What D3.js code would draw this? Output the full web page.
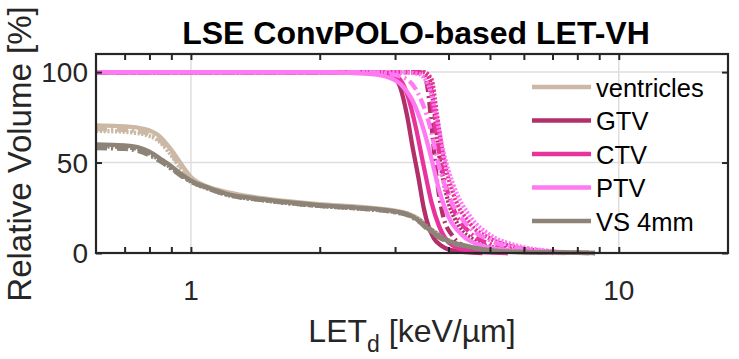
<!DOCTYPE html>
<html><head><meta charset="utf-8">
<script src="https://cdn.jsdelivr.net/npm/d3@7/dist/d3.min.js"></script>
<style>body{margin:0;background:#fff}svg{display:block}text{font-family:"Liberation Sans",Arial,Helvetica,sans-serif}</style>
</head><body>
<svg id="c" width="739" height="359"></svg>
<script>
// ---- data ----
const titleText = "LSE ConvPOLO-based LET-VH";
const yLabelText = "Relative Volume [%]";
const xTicks = [1, 10];
const xTickLabels = ["1", "10"];
const yTicks = [0, 50, 100];
const structures = ["ventricles", "GTV", "CTV", "PTV", "VS 4mm"];
const colors = ["#CBB9A6", "#B1306A", "#E8339D", "#FF7AF2", "#8D8477"];
const styles = ["solid", "dashed", "dotted"];

// [LET, volume%] per structure, per plan variant (solid, dashed, dotted)
const ventriclesSolid = [[0.6,70.5],[0.7,70],[0.78,68.5],[0.84,65],[0.9,57],[0.95,49],[1.0,42],[1.1,36.5],[1.2,34],[1.5,30],[2,27],[2.5,25.5],[3,23.5],[3.2,22],[3.4,19],[3.6,14],[3.8,10],[4.0,7],[4.4,4],[4.8,2],[5.5,0.8],[7,0.3],[8.5,0]];
const ventriclesDashed = [[0.6,68.5],[0.7,68],[0.78,66.5],[0.84,63],[0.9,55],[0.95,47],[1.0,41],[1.1,36],[1.2,33.5],[1.5,29.5],[2,26.5],[2.5,25],[3,23],[3.2,21.5],[3.4,18.5],[3.6,13.5],[3.8,9.5],[4.0,6.5],[4.4,3.8],[4.8,1.9],[5.5,0.7],[7,0.3],[8.5,0]];
const ventriclesDotted = [[0.6,67.5],[0.7,67],[0.78,65.5],[0.84,62],[0.9,54],[0.95,46],[1.0,40],[1.1,35.5],[1.2,33],[1.5,29],[2,26],[2.5,24.5],[3,22.5],[3.2,21],[3.4,18],[3.6,13],[3.8,9],[4.0,6],[4.4,3.5],[4.8,1.8],[5.5,0.7],[7,0.3],[8.5,0]];
const gtvSolid = [[0.6,100],[2.7,100],[2.9,99.5],[3.0,97],[3.08,92],[3.2,76],[3.3,58],[3.4,42],[3.5,25],[3.6,14],[3.7,8],[3.85,4],[4.0,2],[4.4,0.5],[4.8,0]];
const gtvDashed = [[0.6,100],[3.4,100],[3.5,99],[3.58,90],[3.66,68],[3.76,40],[3.88,21],[4.1,9],[4.4,3.5],[5,1],[5.5,0]];
const gtvDotted = [[0.6,100],[3.5,100],[3.6,97],[3.7,80],[3.8,55],[3.95,33],[4.2,16],[4.6,7],[5.2,2.5],[6,0.5],[7,0]];
const ctvSolid = [[0.6,100],[2.6,100],[2.9,99],[3.05,97],[3.2,88],[3.35,70],[3.5,48],[3.65,28],[3.8,15],[4.0,6],[4.3,2],[4.8,0.5],[5.5,0]];
const ctvDashed = [[0.6,100],[3.3,100],[3.5,99],[3.65,85],[3.75,65],[3.9,42],[4.1,25],[4.5,11],[5,5],[5.8,1.5],[7,0]];
const ctvDotted = [[0.6,100],[3.5,100],[3.65,96],[3.75,78],[3.9,52],[4.1,33],[4.5,16],[5,8],[5.8,3],[6.8,1],[8,0]];
const ptvSolid = [[0.6,100],[2.0,100],[2.6,99],[2.9,97],[3.1,93],[3.3,84],[3.5,68],[3.65,52],[3.8,35],[4.0,20],[4.3,10],[4.8,4],[5.5,1.5],[6.5,0.3],[7.5,0]];
const ptvDashed = [[0.6,100],[2.5,100],[2.9,99],[3.2,96],[3.4,88],[3.6,72],[3.8,48],[4.0,32],[4.4,16],[5,7],[5.8,2.5],[7,0.5],[8.5,0]];
const ptvDotted = [[0.6,100],[3.0,100],[3.4,99],[3.6,92],[3.75,75],[3.9,55],[4.1,38],[4.5,20],[5,10],[5.8,4],[7,1],[8.5,0]];
const vsSolid = [[0.6,60],[0.7,59.5],[0.75,58.5],[0.8,56],[0.85,52],[0.9,48],[0.95,43.5],[1.0,40],[1.1,36],[1.2,33],[1.5,29.5],[2,26.5],[2.5,25],[3,23],[3.2,21.5],[3.4,18],[3.6,13],[3.8,9],[4.0,6.5],[4.4,3.8],[4.8,2],[5.5,0.7],[7,0.3],[8.8,0]];
const vsDashed = [[0.6,58],[0.7,57.5],[0.75,56.5],[0.8,54],[0.85,50.5],[0.9,46.5],[0.95,42.5],[1.0,39.5],[1.1,35.5],[1.2,32.5],[1.5,29],[2,26],[2.5,24.5],[3,22.5],[3.2,21],[3.4,17.5],[3.6,12.5],[3.8,8.5],[4.0,6],[4.4,3.6],[4.8,1.9],[5.5,0.7],[7,0.3],[8.8,0]];
const vsDotted = [[0.6,59],[0.7,58.5],[0.75,57.5],[0.8,55],[0.85,51],[0.9,47],[0.95,43],[1.0,39.5],[1.1,35.5],[1.2,32.5],[1.5,29],[2,26],[2.5,24.5],[3,22.8],[3.2,21.5],[3.4,18.5],[3.6,14],[3.8,10],[4.0,7],[4.4,4],[4.8,2.2],[5.5,0.9],[7,0.4],[8.8,0]];

const seriesData = [
  [ventriclesSolid, ventriclesDashed, ventriclesDotted],
  [gtvSolid, gtvDashed, gtvDotted],
  [ctvSolid, ctvDashed, ctvDotted],
  [ptvSolid, ptvDashed, ptvDotted],
  [vsSolid, vsDashed, vsDotted]
];

// ---- layout ----
const W = 739, H = 359;
const L = 96, R = 728, T = 54, B = 253;
const svg = d3.select("#c");
const x = d3.scaleLog().domain([0.6, 18]).range([L, R]);
const y = d3.scaleLinear().domain([0, 110]).range([B, T]);
const axisColor = "#262626";
const tickFont = 28;
const legendFont = 25.5;
const labelFont = 32;

// grid
const grid = svg.append("g").attr("stroke", "#dedede").attr("stroke-width", 1.5);
xTicks.forEach(v => grid.append("line").attr("x1", x(v)).attr("x2", x(v)).attr("y1", T).attr("y2", B));
yTicks.filter(v => v > 0).forEach(v => grid.append("line").attr("x1", L).attr("x2", R).attr("y1", y(v)).attr("y2", y(v)));

// lines
const dash = {solid: null, dashed: "11,4,2,4", dotted: "2.2,1.6"};
const line = d3.line().x(d => x(d[0])).y(d => y(d[1])).curve(d3.curveMonotoneX);
const plot = svg.append("g");
seriesData.forEach((variants, i) => {
  variants.forEach((pts, j) => {
    plot.append("path").datum(pts).attr("d", line)
      .attr("fill", "none").attr("stroke", colors[i]).attr("stroke-width", 4.3)
      .attr("stroke-dasharray", dash[styles[j]]).attr("stroke-linejoin", "round");
  });
});

// axes
const minorX = d3.range(7, 10).map(v => v / 10).concat(d3.range(2, 10)).filter(v => v > 0.6 && v < 18);
const tickLen = 6;
const ax = svg.append("g");
const allX = xTicks.concat(minorX);
ax.append("g").call(d3.axisBottom(x).tickValues(allX).tickSize(-tickLen).tickFormat(""))
  .attr("transform", `translate(0,${B})`);
ax.append("g").call(d3.axisTop(x).tickValues(allX).tickSize(-tickLen).tickFormat(""))
  .attr("transform", `translate(0,${T})`);
ax.append("g").call(d3.axisLeft(y).tickValues(yTicks).tickSize(-tickLen).tickFormat(""))
  .attr("transform", `translate(${L},0)`);
ax.append("g").call(d3.axisRight(y).tickValues(yTicks).tickSize(-tickLen).tickFormat(""))
  .attr("transform", `translate(${R},0)`);
ax.selectAll(".domain").remove();
ax.selectAll("line").attr("stroke", axisColor).attr("stroke-width", 2);
svg.append("rect").attr("x", L).attr("y", T).attr("width", R - L).attr("height", B - T)
  .attr("fill", "none").attr("stroke", axisColor).attr("stroke-width", 2.2);

// tick labels
xTicks.forEach((v, i) => svg.append("text").attr("x", x(v)).attr("y", B + 47).attr("text-anchor", "middle")
  .attr("font-size", tickFont).attr("fill", axisColor).text(xTickLabels[i]));
yTicks.forEach(v => svg.append("text").attr("x", L - 8).attr("y", y(v) + 10).attr("text-anchor", "end")
  .attr("font-size", tickFont).attr("fill", axisColor).text(String(v)));

// title
svg.append("text").attr("x", 416).attr("y", 44).attr("text-anchor", "middle")
  .attr("font-size", 32).attr("font-weight", "bold").attr("fill", "#000").text(titleText);

// y label
svg.append("text").attr("transform", `translate(31,${154}) rotate(-90)`).attr("text-anchor", "middle")
  .attr("font-size", 33).attr("fill", axisColor).text(yLabelText);

// x label
const xl = svg.append("text").attr("x", 412).attr("y", 342).attr("text-anchor", "middle")
  .attr("font-size", labelFont).attr("fill", axisColor);
xl.append("tspan").text("LET");
xl.append("tspan").attr("font-size", 23).attr("dy", 10).text("d");
xl.append("tspan").attr("dy", -10).text(" [keV/\u00B5m]");

// legend
const lg = svg.append("g");
structures.forEach((s, i) => {
  const ly = 87 + i * 33.5;
  lg.append("line").attr("x1", 532).attr("x2", 591).attr("y1", ly).attr("y2", ly)
    .attr("stroke", colors[i]).attr("stroke-width", 4.3);
  lg.append("text").attr("x", 596).attr("y", ly + 9.5).attr("font-size", legendFont).attr("fill", "#000").text(s);
});
</script>
</body></html>
